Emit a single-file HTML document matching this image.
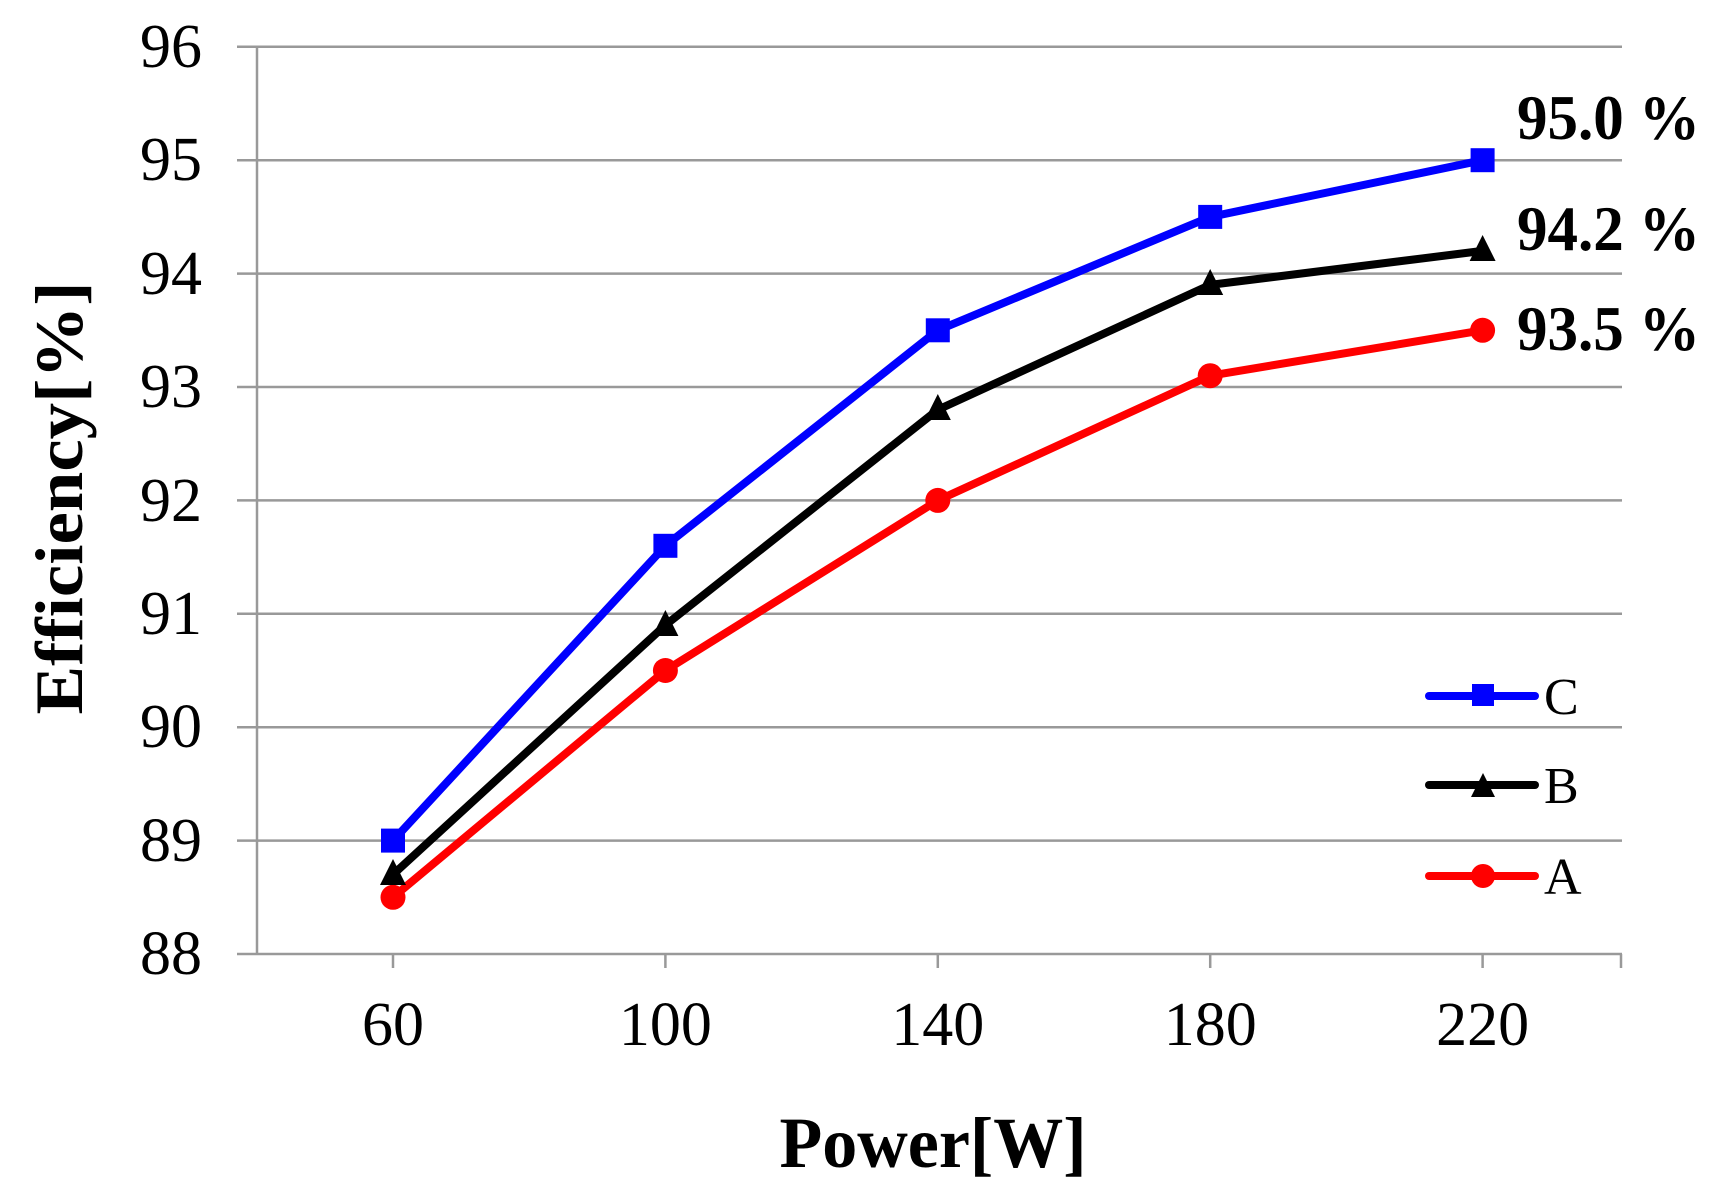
<!DOCTYPE html>
<html><head><meta charset="utf-8"><style>html,body{margin:0;padding:0;background:#fff}svg{display:block}</style></head>
<body>
<svg width="1722" height="1199" viewBox="0 0 1722 1199" xmlns="http://www.w3.org/2000/svg" font-family="Liberation Serif, serif">
<g stroke="#999" stroke-width="2.5" fill="none">
<line x1="237" y1="46.8" x2="1622" y2="46.8"/>
<line x1="237" y1="160.2" x2="1622" y2="160.2"/>
<line x1="237" y1="273.6" x2="1622" y2="273.6"/>
<line x1="237" y1="387" x2="1622" y2="387"/>
<line x1="237" y1="500.4" x2="1622" y2="500.4"/>
<line x1="237" y1="613.8" x2="1622" y2="613.8"/>
<line x1="237" y1="727.2" x2="1622" y2="727.2"/>
<line x1="237" y1="840.6" x2="1622" y2="840.6"/>
<line x1="237" y1="954" x2="1622" y2="954"/>
<line x1="257" y1="46.8" x2="257" y2="954"/>
<line x1="393" y1="954" x2="393" y2="968"/>
<line x1="665.4" y1="954" x2="665.4" y2="968"/>
<line x1="937.8" y1="954" x2="937.8" y2="968"/>
<line x1="1210.2" y1="954" x2="1210.2" y2="968"/>
<line x1="1482.6" y1="954" x2="1482.6" y2="968"/>
<line x1="1621" y1="954" x2="1621" y2="968"/>
</g>
<g font-size="62" text-anchor="end" fill="#000">
<text x="202" y="67">96</text><text x="202" y="180">95</text><text x="202" y="294">94</text><text x="202" y="407">93</text><text x="202" y="521">92</text><text x="202" y="634">91</text><text x="202" y="747">90</text><text x="202" y="861">89</text><text x="202" y="974">88</text>
</g>
<g font-size="62" text-anchor="middle" fill="#000">
<text x="393" y="1045">60</text><text x="665.4" y="1045">100</text><text x="937.8" y="1045">140</text><text x="1210.2" y="1045">180</text><text x="1482.6" y="1045">220</text>
</g>
<text x="933" y="1167" font-size="72" font-weight="bold" text-anchor="middle" textLength="307" lengthAdjust="spacingAndGlyphs">Power[W]</text>
<text transform="translate(82,498) rotate(-90)" font-size="68" font-weight="bold" text-anchor="middle" textLength="433" lengthAdjust="spacingAndGlyphs">Efficiency[%]</text>
<g fill="none" stroke-width="8" stroke-linejoin="round" stroke-linecap="round">
<polyline stroke="#ff0000" points="393,897.3 665.4,670.5 937.8,500.4 1210.2,375.7 1482.6,330.3"/>
<polyline stroke="#000" points="393,874.6 665.4,625.1 937.8,409.7 1210.2,284.9 1482.6,250.9"/>
<polyline stroke="#0000ff" points="393,840.6 665.4,545.8 937.8,330.3 1210.2,216.9 1482.6,160.2"/>
</g>
<g fill="#ff0000">
<circle cx="393" cy="897.3" r="12.5"/><circle cx="665.4" cy="670.5" r="12.5"/><circle cx="937.8" cy="500.4" r="12.5"/><circle cx="1210.2" cy="375.7" r="12.5"/><circle cx="1482.6" cy="330.3" r="12.5"/>
</g>
<g fill="#000">
<polygon points="393,859 406,885 380,885"/><polygon points="665.4,610 678.4,636 652.4,636"/><polygon points="937.8,394 950.8,420 924.8,420"/><polygon points="1210.2,269 1223.2,295 1197.2,295"/><polygon points="1482.6,235 1495.6,261 1469.6,261"/>
</g>
<g fill="#0000ff">
<rect x="381" y="828.6" width="24" height="24"/><rect x="653.4" y="533.8" width="24" height="24"/><rect x="925.8" y="318.3" width="24" height="24"/><rect x="1198.2" y="204.9" width="24" height="24"/><rect x="1470.6" y="148.2" width="24" height="24"/>
</g>
<g font-size="64" font-weight="bold" fill="#000">
<text x="1517" y="139" textLength="183" lengthAdjust="spacingAndGlyphs">95.0 %</text>
<text x="1517" y="250" textLength="183" lengthAdjust="spacingAndGlyphs">94.2 %</text>
<text x="1517" y="350" textLength="183" lengthAdjust="spacingAndGlyphs">93.5 %</text>
</g>
<g stroke-width="8" stroke-linecap="round">
<line x1="1429" y1="696" x2="1535" y2="696" stroke="#0000ff"/>
<line x1="1429" y1="785" x2="1535" y2="785" stroke="#000"/>
<line x1="1429" y1="876" x2="1535" y2="876" stroke="#ff0000"/>
</g>
<rect x="1472" y="684" width="22" height="22" fill="#0000ff"/>
<polygon points="1483,773 1495,797 1471,797" fill="#000"/>
<circle cx="1483" cy="876" r="12" fill="#ff0000"/>
<g font-size="52" fill="#000">
<text x="1544" y="714">C</text><text x="1544" y="803">B</text><text x="1544" y="894">A</text>
</g>
</svg>
</body></html>
